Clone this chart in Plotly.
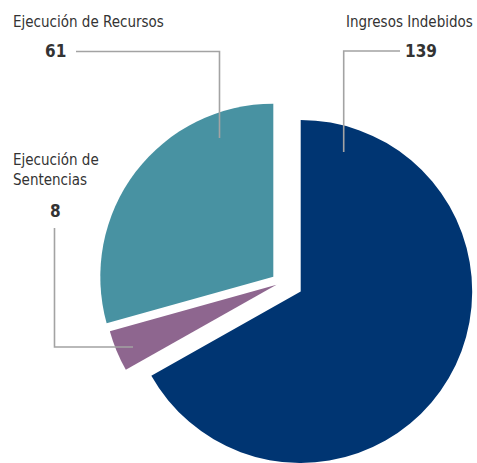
import plotly.graph_objects as go

# Data
categories = ["Ingresos Indebidos", "Ejecución de Sentencias", "Ejecución de Recursos"]
values = [139, 8, 61]
colors = ["#003572", "#8E668F", "#4892A2"]

W, H = 477, 463

# Each slice is drawn by its own pie trace (same data, other slices transparent)
# so that every exploded slice can have its own centre, as in the reference.
centres = [(300.7, 291.5, 171.5), (276.5, 284.8, 173), (273.3, 276.7, 173)]

fig = go.Figure()
for i, (cx, cy, r) in enumerate(centres):
    cols = ["rgba(0,0,0,0)"] * len(values)
    cols[i] = colors[i]
    x0, x1 = (cx - r) / W, (cx + r) / W
    y0, y1 = 1 - (cy + r) / H, 1 - (cy - r) / H
    fig.add_trace(go.Pie(
        labels=categories, values=values, sort=False, direction="clockwise",
        rotation=0, marker=dict(colors=cols, line=dict(width=0)),
        textinfo="none", hoverinfo="label+value",
        showlegend=False,
        domain=dict(x=[max(0, x0), min(1, x1)], y=[max(0, y0), min(1, y1)]),
    ))

FONT = "DejaVu Sans Condensed, Liberation Sans Narrow, Roboto, sans-serif"
TXT = "#333333"
LINE = "#a3a3a3"

def px(x):
    return x / W

def py(y):
    return 1 - y / H

anns = [
    dict(text="Ejecución de Recursos", x=px(11), y=py(22), xanchor="left", size=15),
    dict(text=f"<b>{values[2]}</b>", x=px(43), y=py(51), xanchor="left", size=17),
    dict(text="Ingresos Indebidos", x=px(475), y=py(22), xanchor="right", size=15),
    dict(text=f"<b>{values[0]}</b>", x=px(403), y=py(51), xanchor="left", size=17),
    dict(text="Ejecución de<br>Sentencias", x=px(11), y=py(170), xanchor="left", size=15),
    dict(text=f"<b>{values[1]}</b>", x=px(55), y=py(211), xanchor="center", size=17),
]
for a in anns:
    fig.add_annotation(text=a["text"], x=a["x"], y=a["y"], xref="paper", yref="paper",
                       xanchor=a["xanchor"], yanchor="middle", showarrow=False,
                       align="left", font=dict(family=FONT, size=a["size"], color=TXT))

paths = [
    [(76, 51.5), (219.5, 51.5), (219.5, 138)],
    [(400, 51), (343.7, 51), (343.7, 152)],
    [(54.5, 228), (54.5, 347), (133, 347)],
]
for p in paths:
    d = "M " + " L ".join(f"{px(x)} {py(y)}" for x, y in p)
    fig.add_shape(type="path", path=d, xref="paper", yref="paper",
                  line=dict(color=LINE, width=1.6))

fig.update_layout(width=W, height=H, margin=dict(l=0, r=0, t=0, b=0),
                  paper_bgcolor="white", plot_bgcolor="white")
fig.write_html("out.html", config={"displayModeBar": False},
               post_script="document.body.style.margin='0px';document.body.style.overflow='hidden';")
